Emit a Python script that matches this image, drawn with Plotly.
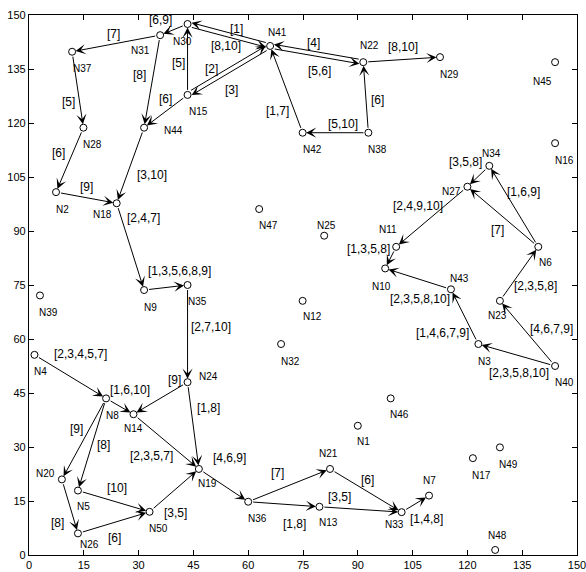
import math
import plotly.graph_objects as go

# ---------------- data ----------------
node_names = ["N1", "N2", "N3", "N4", "N5", "N6", "N7", "N8", "N9", "N10",
              "N11", "N12", "N13", "N14", "N15", "N16", "N17", "N18", "N19", "N20",
              "N21", "N22", "N23", "N24", "N25", "N26", "N27", "N28", "N29", "N30",
              "N31", "N32", "N33", "N34", "N35", "N36", "N37", "N38", "N39", "N40",
              "N41", "N42", "N43", "N44", "N45", "N46", "N47", "N48", "N49", "N50"]
node_x = [90.0, 7.4, 123.0, 1.5, 13.4, 139.4, 109.5, 21.1, 31.5, 97.5,
          100.5, 74.9, 79.5, 28.6, 43.4, 144.0, 121.5, 24.0, 46.5, 9.0,
          82.4, 91.5, 128.9, 43.4, 80.8, 13.4, 120.0, 14.9, 112.5, 43.4,
          35.9, 69.0, 102.0, 126.0, 43.4, 60.0, 11.8, 92.9, 3.0, 144.0,
          66.0, 74.9, 115.5, 31.5, 144.0, 99.0, 63.0, 127.6, 128.9, 33.0]
node_y = [35.9, 100.8, 58.6, 55.6, 17.9, 85.6, 16.5, 43.5, 73.6, 79.6,
          85.6, 70.6, 13.4, 39.1, 127.8, 114.4, 26.9, 97.7, 23.9, 21.0,
          23.9, 136.9, 70.6, 48.0, 88.7, 6.0, 102.3, 118.7, 138.3, 147.5,
          144.4, 58.6, 11.9, 108.1, 75.0, 14.8, 139.8, 117.3, 72.1, 52.5,
          141.4, 117.3, 73.8, 118.7, 136.9, 43.5, 96.1, 1.4, 29.9, 12.0]

edge_src = ["N30", "N41", "N22", "N41", "N22", "N38", "N38", "N42", "N15", "N41",
            "N15", "N15", "N31", "N30", "N37", "N28", "N2", "N31", "N44", "N18",
            "N9", "N35", "N24", "N24", "N4", "N8", "N14", "N8", "N8", "N20",
            "N5", "N26", "N50", "N19", "N36", "N36", "N13", "N21", "N33", "N40",
            "N40", "N23", "N6", "N6", "N34", "N27", "N11", "N43", "N3"]
edge_dst = ["N41", "N30", "N41", "N22", "N29", "N22", "N42", "N41", "N41", "N15",
            "N30", "N44", "N37", "N31", "N28", "N2", "N18", "N44", "N18", "N9",
            "N35", "N24", "N14", "N19", "N8", "N14", "N19", "N20", "N5", "N26",
            "N50", "N50", "N19", "N36", "N21", "N13", "N33", "N33", "N7", "N3",
            "N23", "N6", "N34", "N27", "N27", "N11", "N10", "N10", "N43"]
edge_lbl = ["[1]", "[8,10]", "[4]", "[5,6]", "[8,10]", "[6]", "[5,10]", "[1,7]", "[2]", "[3]",
            "[5]", "[6]", "[7]", "[6,9]", "[5]", "[6]", "[9]", "[8]", "[3,10]", "[2,4,7]",
            "[1,3,5,6,8,9]", "[2,7,10]", "[9]", "[1,8]", "[2,3,4,5,7]", "[1,6,10]", "[2,3,5,7]", "[9]", "[8]", "[8]",
            "[10]", "[6]", "[3,5]", "[4,6,9]", "[7]", "[1,8]", "[3,5]", "[6]", "[1,4,8]", "[2,3,5,8,10]",
            "[4,6,7,9]", "[2,3,5,8]", "[1,6,9]", "[7]", "[3,5,8]", "[2,4,9,10]", "[1,3,5,8]", "[2,3,5,8,10]", "[1,4,6,7,9]"]

tick_vals = [0, 15, 30, 45, 60, 75, 90, 105, 120, 135, 150]

# ---------------- style / layout ----------------
W, H = 586, 572
ML, MR, MT, MB = 29, 9, 15, 17
PX_X = (W - ML - MR) / 150.0
PX_Y = (H - MT - MB) / 150.0

# node label offsets in pixels (dx right, dy down)
node_lbl_off = {
    "N30": (-5, 17), "N31": (-20, 15), "N37": (10, 17), "N41": (7, -13), "N15": (11, 17),
    "N28": (9, 17), "N44": (29, 3), "N2": (6, 17), "N18": (-14, 11), "N22": (6, -17),
    "N29": (9, 17), "N45": (-13, 19), "N42": (10, 17), "N38": (9, 17), "N16": (9, 17),
    "N34": (2, -12), "N27": (-16, 5), "N25": (2, -10), "N11": (-8, -17), "N6": (7, 16),
    "N10": (-4, 18), "N43": (9, -11), "N23": (-2, 15), "N12": (10, 16), "N3": (6, 17),
    "N32": (9, 17), "N40": (9, 16), "N47": (9, 16), "N9": (6, 17), "N35": (10, 16),
    "N39": (9, 17), "N4": (6, 17), "N24": (21, -6), "N8": (6, 17), "N14": (0, 14),
    "N19": (9, 15), "N20": (-16, -6), "N5": (6, 16), "N36": (9, 17), "N50": (9, 17),
    "N26": (12, 11), "N46": (9, 16), "N1": (6, 16), "N49": (9, 17), "N17": (9, 17),
    "N21": (-2, -15), "N7": (0, -15), "N13": (9, 16), "N33": (-7, 12), "N48": (2, -14),
}
# edge label offsets from edge midpoint in pixels (dx right, dy down)
edge_lbl_off = [(8, -6), (-3, 11), (-3, -11.5), (3, 16.5), (1, -13), (12, 3), (7, -9), (-9, 22), (-17, -1.5), (3, 20),
                (-9, 4), (0, -12), (-3, -9), (-13, -9.5), (-9, 12), (-11, -7), (0, -10.5), (-13, -6), (22, 9.5), (13, -29),
                (14, -17), (23, -7), (13.5, -18), (15, -18), (10, -23), (10, -16), (-14.5, 14), (-7, -9.5), (11, 0.5), (-12.5, 17),
                (3, -13), (1, 15), (1, 23), (6, -27), (-12, -12), (11, 20), (-21, -12), (1.5, -11), (11, 15), (2, 18),
                (24, -4), (16, 12), (9.5, -14.5), (-5.5, 13), (-13, -14.5), (-14, -11), (-22, -8.5), (2, 20), (-22, 16.6)]
# perpendicular pixel offset for parallel (two-way) edges: +1 shifts to the left of travel direction
edge_par = {0: -1, 1: -1, 2: -1, 3: -1, 8: 1, 9: 1}
PAR_PX = 2.2

FONT = "Liberation Sans, Arial, sans-serif"
pos = {n: (x, y) for n, x, y in zip(node_names, node_x, node_y)}

annotations = []
for i, (s, d, lbl) in enumerate(zip(edge_src, edge_dst, edge_lbl)):
    x0, y0 = pos[s]
    x1, y1 = pos[d]
    dxp = (x1 - x0) * PX_X
    dyp = -(y1 - y0) * PX_Y
    L = math.hypot(dxp, dyp)
    ox = oy = 0.0
    if i in edge_par:
        sgn = edge_par[i]
        nxp, nyp = dyp / L, -dxp / L
        ox = sgn * PAR_PX * nxp / PX_X
        oy = -sgn * PAR_PX * nyp / PX_Y
    annotations.append(dict(
        x=x1 + ox, y=y1 + oy, ax=x0 + ox, ay=y0 + oy,
        xref="x", yref="y", axref="x", ayref="y",
        text="", showarrow=True, arrowhead=3, arrowsize=1.7, arrowwidth=1,
        arrowcolor="black", standoff=3.5, startstandoff=3.5,
    ))
    mx, my = (x0 + x1) / 2, (y0 + y1) / 2
    odx, ody = edge_lbl_off[i]
    annotations.append(dict(
        x=mx, y=my, xref="x", yref="y", text=lbl, showarrow=False,
        xshift=odx, yshift=-ody, font=dict(family=FONT, size=12, color="black"),
    ))

for n in node_names:
    odx, ody = node_lbl_off[n]
    annotations.append(dict(
        x=pos[n][0], y=pos[n][1], xref="x", yref="y", text=n, showarrow=False,
        xshift=odx, yshift=-ody, font=dict(family=FONT, size=10, color="black"),
    ))

fig = go.Figure()
fig.add_trace(go.Scatter(
    x=node_x, y=node_y, mode="markers", hoverinfo="text", text=node_names,
    marker=dict(symbol="circle-open", size=7, color="black", line=dict(width=1, color="black")),
    showlegend=False,
))

axis_common = dict(
    range=[0, 150], tickvals=tick_vals, ticks="inside", ticklen=5, tickwidth=1,
    tickcolor="black", showline=True, linecolor="black", linewidth=1.2, mirror="ticks",
    showgrid=False, zeroline=False, tickfont=dict(family=FONT, size=11, color="black"),
    ticklabeloverflow="allow",
)
fig.update_layout(
    width=W, height=H, template="none",
    margin=dict(l=ML, r=MR, t=MT, b=MB, autoexpand=False),
    paper_bgcolor="white", plot_bgcolor="white",
    xaxis=dict(**axis_common, ticklabelstandoff=0),
    yaxis=dict(**axis_common),
    annotations=annotations,
)
fig.write_html("out.html", config={"displayModeBar": False},
               post_script="document.body.style.margin='0';document.body.style.overflow='hidden';")
